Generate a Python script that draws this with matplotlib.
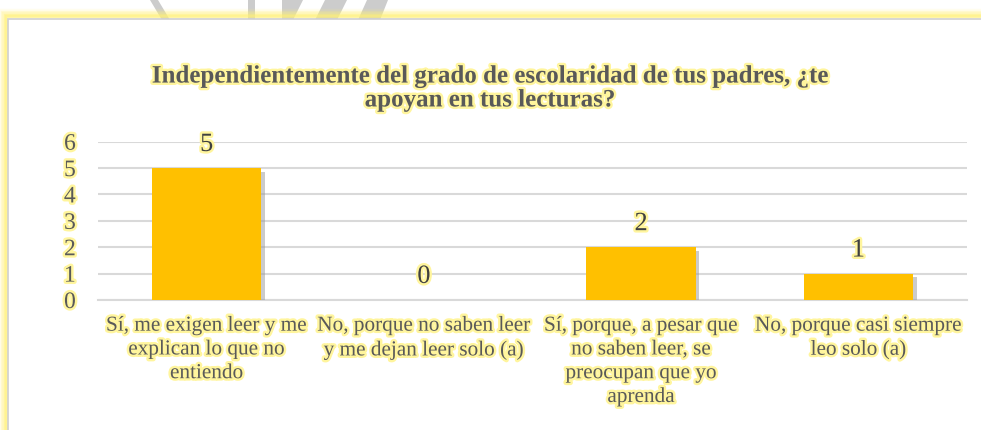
import matplotlib
matplotlib.use("Agg")
import matplotlib.pyplot as plt
import matplotlib.patheffects as pe
from matplotlib.patches import Rectangle, Polygon
from matplotlib import font_manager

categories = [
    "Sí, me exigen leer y me\nexplican lo que no\nentiendo",
    "No, porque no saben leer\ny me dejan leer solo (a)",
    "Sí, porque, a pesar que\nno saben leer, se\npreocupan que yo\naprenda",
    "No, porque casi siempre\nleo solo (a)",
]
values = [5, 0, 2, 1]
yticks = [0, 1, 2, 3, 4, 5, 6]
title = "Independientemente del grado de escolaridad de tus padres, ¿te\napoyan en tus lecturas?"

names = sorted({f.name for f in font_manager.fontManager.ttflist})
serif_name = next((n for n in names if "Liberation Serif" in n), "DejaVu Serif")
plt.rcParams["font.family"] = "serif"
plt.rcParams["font.serif"] = [serif_name, "DejaVu Serif"]

W, H = 981, 430
fig = plt.figure(figsize=(W / 100, H / 100), dpi=100)
fig.patch.set_facecolor("white")

def fp(pts):
    return [(px / W, 1 - py / H) for px, py in pts]

# faint background watermark shapes above the chart frame
for shape in [
    [(150, 0), (158, 0), (170, 20), (162, 20)],
    [(248, 0), (255, 0), (255, 20), (248, 20)],
    [(282, 0), (303, 0), (293, 20), (282, 20)],
    [(325, 0), (347, 0), (337, 20), (315, 20)],
    [(367, 0), (388, 0), (380, 20), (358, 20)],
]:
    fig.patches.append(Polygon(fp(shape), closed=True, transform=fig.transFigure,
                               facecolor="#cccccc", edgecolor="none", zorder=-5))

# frame with yellow glow
for i, a in enumerate([0.12, 0.2, 0.3, 0.45, 0.6]):
    off = (5 - i) * 1.6
    fig.patches.append(Rectangle(((8 - off) / W, -0.1), 1.2, (H - 18 + off) / H + 0.1,
                                 transform=fig.transFigure, facecolor="none",
                                 edgecolor="#fff176", alpha=a, linewidth=2.5, zorder=-3))
fig.patches.append(Rectangle((8 / W, -0.1), 1.2, (H - 19) / H + 0.1,
                             transform=fig.transFigure, facecolor="white",
                             edgecolor="#d0d0d0", linewidth=1.2, zorder=-2))

ax = fig.add_axes([98 / W, (H - 300) / H, (967 - 98) / W, (300 - 141.7) / H])
ax.set_facecolor("none")
ax.set_zorder(5)

glow = [pe.withStroke(linewidth=3.5, foreground="#fff59d")]
txtc = "#595959"

x = list(range(len(categories)))
bars = ax.bar(x, values, width=0.505, color="#FFC000", zorder=3)
for b in bars:
    b.set_path_effects([pe.SimplePatchShadow(offset=(2.5, -2.5), shadow_rgbFace="#999999", alpha=0.5),
                        pe.Normal()])

for xi, v in zip(x, values):
    ax.annotate(str(v), (xi, v), xytext=(0, 12.3), textcoords="offset points",
                ha="center", va="baseline", fontsize=19, color="#404040",
                path_effects=glow, zorder=4, annotation_clip=False)

ax.set_xlim(-0.5, len(categories) - 0.5)
ax.set_ylim(0, 6)
ax.set_yticks(yticks)
ax.set_yticklabels([str(t) for t in yticks], fontsize=17, color=txtc)
for lab in ax.get_yticklabels():
    lab.set_path_effects(glow)
ax.grid(axis="y", color="#d9d9d9", linewidth=1.5, zorder=0)
ax.tick_params(axis="y", length=0, pad=16)
ax.tick_params(axis="x", length=0, pad=12)
ax.set_xticks(x)
ax.set_xticklabels(categories, fontsize=15.3, color=txtc, linespacing=1.34)
for lab in ax.get_xticklabels():
    lab.set_path_effects(glow)
for s in ["top", "right", "left"]:
    ax.spines[s].set_visible(False)
ax.spines["bottom"].set_color("#d9d9d9")
ax.spines["bottom"].set_linewidth(1.5)

fig.text(490 / W, 1 - 88 / H, title, ha="center", va="center", fontsize=18,
         fontweight="bold", color=txtc, linespacing=1.05, path_effects=glow)

fig.savefig("out.png", dpi=100)
